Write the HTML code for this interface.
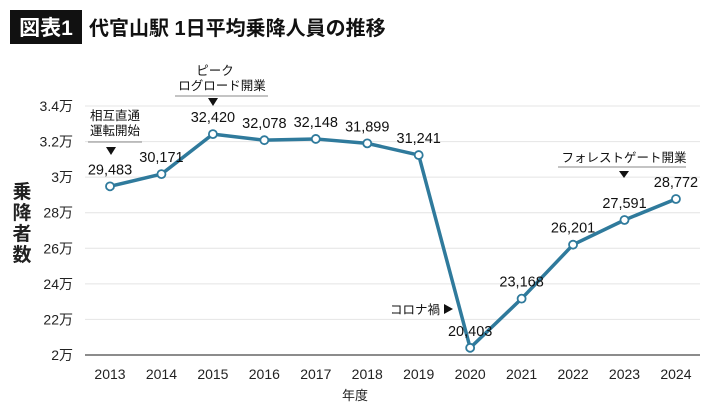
<!DOCTYPE html>
<html><head><meta charset="utf-8"><style>
body{margin:0;background:#fff;}
svg{display:block;font-family:"Liberation Sans","Noto Sans CJK JP",sans-serif;}
</style></head><body>
<svg id="c" width="710" height="407" viewBox="0 0 710 407">
<rect x="10" y="10" width="72" height="34" fill="#111"/>
<text x="46" y="35" fill="#fff" font-size="21" font-weight="bold" text-anchor="middle">図表1</text>
<text x="89" y="35" fill="#111" font-size="20" font-weight="bold">代官山駅 1日平均乗降人員の推移</text>
<g font-size="19" font-weight="bold" fill="#222" text-anchor="middle">
<text x="22" y="198">乗</text><text x="22" y="219">降</text><text x="22" y="240">者</text><text x="22" y="261">数</text>
</g>
<g id="grid"></g><g id="ylab"></g><g id="xlab"></g><g id="series"></g>
<text x="355" y="400" font-size="13" fill="#222" text-anchor="middle">年度</text>
<g font-size="12" fill="#111">
<text x="115" y="120" text-anchor="middle" font-size="12.5">相互直通</text>
<text x="115" y="135" text-anchor="middle" font-size="12.5">運転開始</text>
<line x1="88" y1="142" x2="142" y2="142" stroke="#888" stroke-width="1"/>
<polygon points="106,147 116,147 111,155" fill="#111"/>
<text x="215" y="75" text-anchor="middle" font-size="12.5">ピーク</text>
<text x="222" y="90" text-anchor="middle" font-size="12.5">ログロード開業</text>
<line x1="175" y1="96" x2="268" y2="96" stroke="#888" stroke-width="1"/>
<polygon points="208,98 218,98 213,106" fill="#111"/>
<text x="440" y="314" text-anchor="end" font-size="12.5">コロナ禍</text>
<polygon points="444,304 444,314 453,309" fill="#111"/>
<text x="624" y="162" text-anchor="middle" font-size="12.5">フォレストゲート開業</text>
<line x1="558" y1="167" x2="686" y2="167" stroke="#888" stroke-width="1"/>
<polygon points="619,171 629,171 624,178" fill="#111"/>
</g>
</svg>
<script>
const years=["2013","2014","2015","2016","2017","2018","2019","2020","2021","2022","2023","2024"];
const riders=[29483,30171,32420,32078,32148,31899,31241,20403,23168,26201,27591,28772];
const valueLabels=["29,483","30,171","32,420","32,078","32,148","31,899","31,241","20,403","23,168","26,201","27,591","28,772"];
const yTicks=[20000,22000,24000,26000,28000,30000,32000,34000];
const yTickLabels=["2万","22万","24万","26万","28万","3万","3.2万","3.4万"];
const NS="http://www.w3.org/2000/svg";
function X(i){return 110+i*51.45;}
function Y(v){return 355-(v-20000)*(249/14000);}
function mk(tag,attrs,parent,txt){const e=document.createElementNS(NS,tag);for(const k in attrs)e.setAttribute(k,attrs[k]);if(txt!==undefined)e.textContent=txt;parent.appendChild(e);return e;}
const g=document.getElementById('grid'),yl=document.getElementById('ylab'),xl=document.getElementById('xlab'),s=document.getElementById('series');
yTicks.forEach((t,i)=>{
 const l=mk('line',{x1:85,x2:700,y1:Y(t),y2:Y(t),stroke:i==0?'#666':'#e4e4e4','stroke-width':i==0?1.5:1},g);
 
 
 const tx=mk('text',{x:73,y:Y(t)+5,'font-size':14,fill:'#222','text-anchor':'end'},yl,yTickLabels[i]);
 
 
});
years.forEach((y,i)=>{
 const tx=mk('text',{x:X(i),y:379,'font-size':14,fill:'#222','text-anchor':'middle'},xl,y);
 
 
});
const pts=riders.map((v,i)=>X(i)+','+Y(v)).join(' ');
const pl=mk('polyline',{points:pts,fill:'none',stroke:'#2f7a9c','stroke-width':3.5,'stroke-linejoin':'round'},s);


riders.forEach((v,i)=>{
 const c=mk('circle',{cx:X(i),cy:Y(v),r:4,fill:'#fff',stroke:'#2f7a9c','stroke-width':1.8},s);
 
 
 const t=mk('text',{x:X(i),y:Y(v)-12,'font-size':14.5,fill:'#111','text-anchor':'middle'},s,valueLabels[i]);
 
 
});
</script>
</body></html>
